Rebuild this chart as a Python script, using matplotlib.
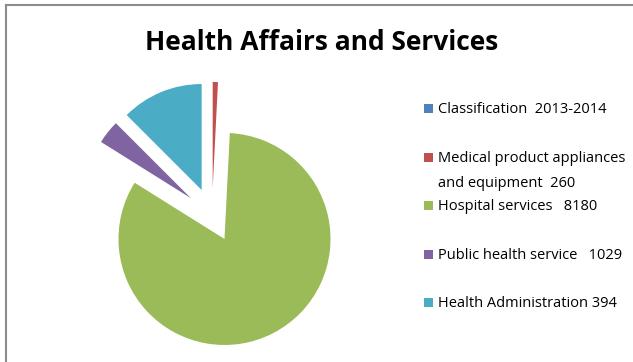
import matplotlib
matplotlib.use("Agg")
import matplotlib.pyplot as plt
from matplotlib.patches import Rectangle
from matplotlib.lines import Line2D

# legend entries (text as printed in the chart)
legend_labels = [
    "Classification  2013-2014",
    "Medical product appliances\nand equipment  260",
    "Hospital services   8180",
    "Public health service   1029",
    "Health Administration 394",
]
# slice sizes as drawn (share of the circle)
slice_shares = [0.0, 0.8, 83.1, 3.6, 12.5]
colors = ["#4F81BD", "#C0504D", "#9BBB59", "#8064A2", "#4BACC6"]

W, H = 633, 362
fig = plt.figure(figsize=(W / 100, H / 100), dpi=100)

# pie axes: centre around (212, 215) px, radius ~106 px
cx, cy, R, S = 212, 215, 106, 140
ax = fig.add_axes([(cx - S) / W, (H - cy - S) / H, 2 * S / W, 2 * S / H])
vals = [v for v in slice_shares if v > 0]
cols = [c for v, c in zip(slice_shares, colors) if v > 0]
ax.pie(vals, colors=cols, startangle=90, counterclock=False,
       explode=[0.255] * len(vals), wedgeprops=dict(linewidth=0))
ax.set_xlim(-S / R, S / R)
ax.set_ylim(-S / R, S / R)
ax.set_aspect("equal")
ax.axis("off")

# title
fig.text(322 / W, 1 - 42 / H, "Health Affairs and Services", ha="center", va="center",
         fontsize=19, fontweight="bold", family="Open Sans")

# legend (marker + text, y in pixels from top)
row_y = [108, 157, 205, 254, 302]
for lab, col, y in zip(legend_labels, colors, row_y):
    fig.patches.append(Rectangle((424 / W, 1 - (y + 5) / H), 9 / W, 9 / H,
                                 facecolor=col, edgecolor="none",
                                 transform=fig.transFigure, figure=fig))
    fig.text(438 / W, 1 - (y - 6) / H, lab, ha="left", va="top",
             fontsize=10.5, family="Open Sans", linespacing=1.9)

# chart frame (left and top edges visible)
fig.lines.append(Line2D([5.5 / W, 5.5 / W], [0, 1 - 4.5 / H], color="#8c8c8c",
                        linewidth=1.5, transform=fig.transFigure))
fig.lines.append(Line2D([5.5 / W, 1], [1 - 4.5 / H, 1 - 4.5 / H], color="#8c8c8c",
                        linewidth=1.5, transform=fig.transFigure))

fig.savefig("out.png", dpi=100)
